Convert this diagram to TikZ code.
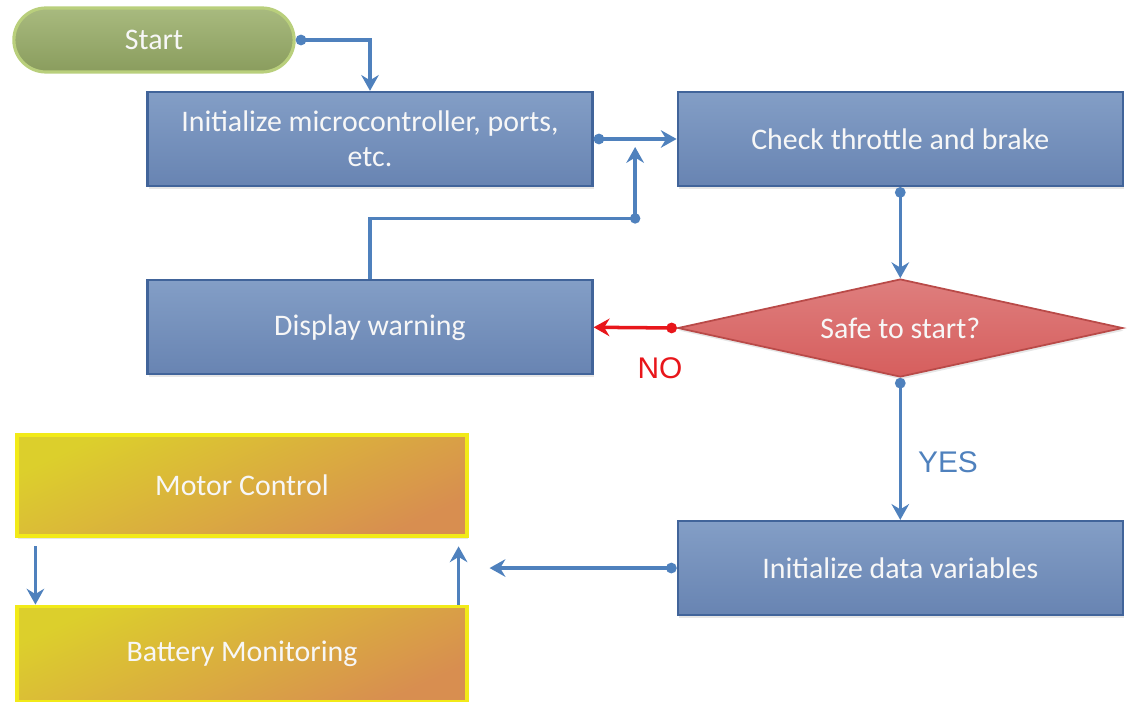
\documentclass[tikz,border=0pt]{standalone}
\usepackage{fontspec}
\setsansfont{Carlito}
\newfontfamily\tagfont{Liberation Sans}
\usepackage{xcolor}
\usetikzlibrary{arrows.meta,positioning,calc,shapes.geometric,shapes.misc,shadows}

\definecolor{flow}{HTML}{4F81BD}
\definecolor{boxlight}{HTML}{839EC6}
\definecolor{boxdark}{HTML}{6884B2}
\definecolor{boxline}{HTML}{41649A}
\definecolor{decfill}{HTML}{D65E5D}
\definecolor{decline}{HTML}{B94A48}
\definecolor{startfill}{HTML}{99AE68}
\definecolor{startline}{HTML}{B9CF7C}
\definecolor{modyellow}{HTML}{DCCF2C}
\definecolor{modorange}{HTML}{D88E50}
\definecolor{modline}{HTML}{F2EA18}
\definecolor{nored}{HTML}{E8161B}

\begin{document}
\begin{tikzpicture}[
  font=\sffamily\fontsize{17}{20}\selectfont,
  txt/.style={text=white!94!gray, align=center},
  tag/.style={font=\tagfont\fontsize{17}{20}\selectfont},
  box/.style={txt, rectangle, draw=boxline, line width=1.3pt,
              top color=boxlight, bottom color=boxdark,
              minimum width=8.9cm, minimum height=1.88cm,
              drop shadow={opacity=0.2, shadow xshift=0.6pt, shadow yshift=-1.5pt}},
  term/.style={txt, rounded rectangle, draw=startline, line width=1.8pt,
               top color=startfill!85!white, bottom color=startfill!90!black,
               minimum width=5.84cm, minimum height=1.28cm},
  gate/.style={txt, diamond, aspect=4.5, draw=decline, line width=1pt,
               top color=decfill!80!white, bottom color=decfill,
               minimum width=8.9cm, minimum height=1.96cm, inner sep=0pt,
               drop shadow={opacity=0.2, shadow xshift=0.6pt, shadow yshift=-1.5pt}},
  task/.style={txt, rectangle, draw=modline, line width=1.8pt,
               top color=modyellow, bottom color=modorange, shading angle=25,
               minimum width=9cm,
               drop shadow={opacity=0.2, shadow xshift=0.6pt, shadow yshift=-1.5pt}},
  arr/.style={-{Stealth[length=9pt, width=10pt, inset=3pt]}, line width=2pt, draw=flow},
  darr/.style={{Circle[length=6pt]}-{Stealth[length=9pt, width=10pt, inset=3pt]},
               line width=2pt, draw=flow}
]
\useasboundingbox (0,0) rectangle (22.54,-14.04);

% main flow
\node[term] (start) at (3.08,-0.80) {Start};
\node[box] (init) at (7.40,-2.78) {Initialize microcontroller, ports,\\etc.};
\node[box, right=1.66cm of init] (check) {Check throttle and brake};
\node[box, below=1.84cm of init] (warn) {Display warning};
\node[gate, below=1.82cm of check] (safe) {Safe to start?};
\node[box, below=2.84cm of safe] (vars) {Initialize data variables};

% main loop tasks
\node[task, minimum height=2.02cm] (motor) at (4.84,-9.71) {Motor Control};
\node[task, minimum height=1.9cm, below=1.34cm of motor] (batt) {Battery Monitoring};

\coordinate (merge) at ($(init.east)!0.5!(check.west)$);
\coordinate (back) at ($(init.south)!0.34!(warn.north)$);
\coordinate (loopin) at ([xshift=4.2mm]motor.east |- vars.west);

\draw[darr] (start.east) -| (init.north);
\draw[darr] (init.east) -- (check.west);
\draw[arr] (warn.north) |- (merge |- back) -- ([yshift=-1.6mm]merge);
\fill[flow] (merge |- back) circle (3pt);
\draw[darr] (check.south) -- (safe.north);
\draw[darr, draw=nored] (safe.west) -- (warn.east);
\node[tag, text=nored] (no) at (13.2,-7.36) {NO};
\draw[darr] (safe.south) -- (vars.north);
\node[tag, text=flow] (yes) at (18.96,-9.24) {YES};
\draw[darr] (vars.west) -- (loopin);

% between the two tasks
\draw[arr, shorten <=5pt] ([xshift=4mm]motor.south west) -- ([xshift=4mm]batt.north west);
\draw[arr, shorten >=5pt] ([xshift=-2mm]batt.north east) -- ([xshift=-2mm]motor.south east);
\end{tikzpicture}
\end{document}
